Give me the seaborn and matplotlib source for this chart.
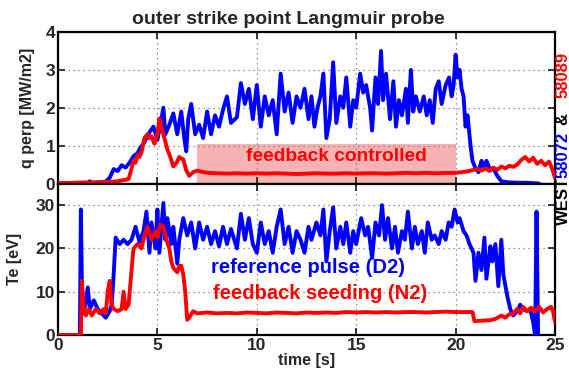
import matplotlib
matplotlib.use("Agg")
import matplotlib.pyplot as plt
import seaborn as sns
import numpy as np

# --- values ---
# top panel: q perp [MW/m2], reference pulse 58072 (blue)
t_q_ref = [0, 1.0, 1.5, 1.6, 1.7, 2.0, 2.4, 2.6, 2.8, 3.0,
           3.2, 3.4, 3.6, 3.8, 4.0, 4.15, 4.3, 4.45, 4.6, 4.8,
           5.0, 5.15, 5.3, 5.4, 5.6, 5.8, 6.0, 6.2, 6.35, 6.45,
           6.55, 6.7, 6.9, 7.1, 7.3, 7.5, 7.7, 7.9, 8.1, 8.3,
           8.5, 8.7, 9.0, 9.2, 9.4, 9.6, 9.8, 10.0, 10.2, 10.4,
           10.6, 10.8, 11.0, 11.2, 11.4, 11.6, 11.8, 12.0, 12.2, 12.4,
           12.6, 12.75, 12.9, 13.05, 13.2, 13.35, 13.5, 13.67, 13.84, 14.0,
           14.2, 14.35, 14.5, 14.7, 14.85, 15.0, 15.2, 15.35, 15.5, 15.7,
           15.8, 15.97, 16.1, 16.25, 16.35, 16.5, 16.7, 16.87, 17.0, 17.15,
           17.3, 17.5, 17.6, 17.75, 17.87, 18.0, 18.2, 18.4, 18.55, 18.7,
           18.85, 19.0, 19.15, 19.3, 19.5, 19.67, 19.8, 19.9, 20.0, 20.1,
           20.2, 20.3, 20.4, 20.5, 20.6, 20.75, 20.85, 21.0, 21.15, 21.3,
           21.45, 21.55, 21.75, 21.9, 22.1, 22.3, 22.65, 23.2, 23.6, 24.2]
q_ref = [0.0, 0.02, 0.02, 0.06, 0.02, 0.03, 0.05, 0.15, 0.38, 0.33,
         0.48, 0.42, 0.55, 0.72, 0.8, 0.95, 1.05, 1.2, 1.35, 1.5,
         1.15, 1.55, 2.0, 1.3, 1.55, 1.85, 1.3, 1.9, 1.2, 0.85,
         1.7, 2.1, 1.3, 1.55, 1.2, 1.9, 1.3, 1.8, 1.5, 1.95,
         2.3, 1.6, 1.75, 2.65, 2.1, 2.5, 1.7, 2.6, 1.5, 2.3,
         1.8, 2.2, 1.3, 2.9, 1.9, 2.4, 1.6, 2.3, 2.0, 2.5,
         1.7, 2.3, 1.5, 2.0, 2.3, 2.9, 1.2, 1.7, 3.2, 1.6,
         2.3, 2.0, 2.8, 1.5, 2.2, 2.0, 2.9, 2.4, 2.6, 2.0,
         1.4, 2.8, 2.1, 3.5, 2.2, 2.9, 1.7, 2.7, 1.5, 2.2,
         1.8, 2.5, 1.6, 3.0, 1.9, 2.3, 1.9, 2.3, 1.8, 2.2,
         1.6, 2.5, 2.7, 2.1, 2.6, 2.8, 2.3, 2.6, 3.4, 2.8,
         3.0, 2.5, 2.3, 1.5, 1.8, 1.0, 0.6, 0.4, 0.3, 0.6,
         0.4, 0.6, 0.35, 0.4, 0.2, 0.06, 0.03, 0.02, 0.02, 0.0]

# top panel: feedback seeding 58089 (red)
t_q_fb = [0, 1.0, 2.0, 2.6, 2.8, 3.0, 3.2, 3.4, 3.55, 3.65,
          3.8, 3.9, 4.0, 4.1, 4.2, 4.35, 4.5, 4.6, 4.7, 4.85,
          5.0, 5.1, 5.2, 5.35, 5.5, 5.65, 5.8, 5.9, 6.0, 6.1,
          6.2, 6.3, 6.45, 6.6, 6.8, 7.0, 7.3, 7.6, 8.0, 8.5,
          9.0, 9.5, 10.0, 10.5, 11.0, 11.5, 12.0, 12.5, 13.0, 13.5,
          14.0, 14.5, 15.0, 15.5, 16.0, 16.5, 17.0, 17.5, 18.0, 18.5,
          19.0, 19.5, 20.0, 20.3, 20.6, 20.9, 21.1, 21.3, 21.5, 21.7,
          21.9, 22.1, 22.3, 22.5, 22.7, 22.9, 23.1, 23.3, 23.5, 23.7,
          23.9, 24.1, 24.3, 24.5, 24.7, 24.85, 25.0]
q_fb = [0.01, 0.02, 0.03, 0.04, 0.05, 0.06, 0.08, 0.1, 0.12, 0.3,
        0.6, 0.55, 0.75, 0.7, 0.82, 1.2, 1.3, 1.2, 1.25, 1.05,
        1.3, 1.72, 1.5, 1.2, 0.9, 0.7, 0.45, 0.5, 0.58, 0.7,
        0.66, 0.64, 0.35, 0.2, 0.3, 0.34, 0.3, 0.28, 0.27, 0.26,
        0.27, 0.26, 0.27, 0.26, 0.27, 0.26, 0.25, 0.26, 0.27, 0.26,
        0.26, 0.27, 0.26, 0.27, 0.27, 0.26, 0.27, 0.28, 0.27, 0.28,
        0.27, 0.28, 0.28, 0.3, 0.32, 0.36, 0.38, 0.34, 0.4, 0.33,
        0.42, 0.36, 0.45, 0.4, 0.47, 0.44, 0.5, 0.62, 0.7, 0.58,
        0.68, 0.52, 0.6, 0.48, 0.58, 0.4, 0.15]

# bottom panel: Te [eV], reference pulse (blue)
t_te_ref = [0, 1.1, 1.15, 1.22, 1.3, 1.5, 1.6, 1.8, 2.0, 2.2,
            2.4, 2.6, 2.7, 2.8, 2.9, 3.1, 3.3, 3.5, 3.7, 3.9,
            4.1, 4.3, 4.45, 4.6, 4.7, 4.9, 5.0, 5.1, 5.3, 5.4,
            5.5, 5.7, 5.8, 6.0, 6.1, 6.3, 6.5, 6.7, 6.9, 7.1,
            7.3, 7.5, 7.7, 7.9, 8.1, 8.3, 8.5, 8.7, 9.0, 9.2,
            9.4, 9.6, 9.8, 10.0, 10.2, 10.4, 10.6, 10.8, 11.0, 11.2,
            11.4, 11.6, 11.8, 12.0, 12.2, 12.4, 12.6, 12.75, 13.0, 13.2,
            13.35, 13.5, 13.67, 13.84, 14.0, 14.2, 14.35, 14.5, 14.7, 14.85,
            15.0, 15.25, 15.45, 15.6, 15.8, 15.97, 16.15, 16.3, 16.45, 16.6,
            16.8, 16.95, 17.1, 17.3, 17.45, 17.6, 17.8, 17.95, 18.1, 18.3,
            18.45, 18.6, 18.8, 18.95, 19.15, 19.3, 19.5, 19.65, 19.8, 19.95,
            20.1, 20.2, 20.4, 20.55, 20.7, 20.9, 21.0, 21.15, 21.3, 21.45,
            21.55, 21.75, 21.85, 22.0, 22.15, 22.3, 22.4, 22.6, 22.75, 22.9,
            23.1, 23.25, 23.4, 23.6, 23.75, 23.9, 24.0, 24.07, 24.15]
te_ref = [0, 0, 29, 6, 5, 11, 6, 8, 6, 5,
          4, 5.5, 7, 14, 22.5, 21, 22, 21, 22, 25,
          21.5, 24, 28.5, 19, 26, 20, 29, 19, 30.5, 22,
          27, 21, 25, 16.5, 22, 27, 23, 26, 20, 26,
          22, 25, 21, 24, 20.5, 25, 21, 24.5, 20, 28,
          22, 27, 21, 19, 26, 21, 24, 19, 25, 29,
          21, 25, 19, 24, 22, 19, 25, 22, 26, 23,
          29, 17, 24, 29.5, 20, 25, 21, 26, 19, 24,
          21, 27, 23, 25, 17.8, 26, 23, 30, 22, 27,
          20, 25, 19, 24, 22, 28.5, 20, 25, 21, 24,
          19, 26, 22, 23, 21, 24, 22, 26, 25, 29,
          26, 27, 24, 23, 21, 19, 12.5, 19, 15, 22.5,
          13, 20.5, 17, 21, 11.3, 22, 14, 9, 6, 4.5,
          5.5, 7, 6, 5.5, 6, 3, 0, 28.5, 0]

# bottom panel: feedback seeding (red)
t_te_fb = [0, 1.15, 1.2, 1.3, 1.4, 1.55, 1.7, 1.9, 2.1, 2.3,
           2.4, 2.5, 2.6, 2.7, 2.8, 3.0, 3.2, 3.3, 3.4, 3.55,
           3.7, 3.8, 4.0, 4.2, 4.35, 4.5, 4.7, 4.9, 5.0, 5.15,
           5.3, 5.45, 5.6, 5.7, 5.8, 6.0, 6.1, 6.2, 6.3, 6.4,
           6.5, 6.6, 6.8, 7.0, 7.5, 8.0, 8.5, 9.0, 9.5, 10.0,
           10.5, 11.0, 11.5, 12.0, 12.5, 13.0, 13.5, 14.0, 14.5, 15.0,
           15.5, 16.0, 16.5, 17.0, 17.5, 18.0, 18.5, 19.0, 19.5, 20.0,
           20.5, 20.85, 20.95, 21.3, 21.7, 22.0, 22.3, 22.5, 22.7, 22.9,
           23.1, 23.25, 23.4, 23.6, 23.8, 24.0, 24.2, 24.4, 24.6, 24.8,
           24.9, 25.0]
te_fb = [0, 0, 12.5, 6, 4.5, 6, 4.5, 6, 5, 6,
         5, 10, 12.5, 7, 6, 5.5, 6, 10, 6, 7,
         15, 20, 21, 20, 23, 25, 22, 24, 22.5, 25.5,
         25, 22, 20, 17, 15.5, 14.5, 16, 16, 14, 10,
         3.5, 4, 5.5, 5, 5.2, 5, 5.1, 5, 5.2, 5.1,
         5, 5.2, 5.1, 5, 5.2, 5.1, 5.2, 5.1, 5.3, 5.2,
         5.3, 5.2, 5.3, 5.2, 5.3, 5.3, 5.2, 5.3, 5.4, 5.3,
         5.3, 5.3, 3.2, 3.3, 3.4, 3.7, 4.5, 4.0, 4.8, 5.0,
         6.0, 5.0, 6.5, 5.5, 6.3, 5.5, 6.5, 5.2, 6.0, 6.5,
         5.5, 3.0]

xticks = [0, 5, 10, 15, 20, 25]
q_ticks = [0, 1, 2, 3, 4]
te_ticks = [0, 10, 20, 30]
fb_window = [7, 20]   # feedback controlled interval [s]
fb_height = 1.04

BLUE = "#0000ff"
RED = "#ff0000"

sns.set_style("ticks")
plt.rcParams['font.family'] = ['Liberation Sans', 'DejaVu Sans']
plt.rcParams['font.weight'] = 'bold'
plt.rcParams['axes.labelweight'] = 'bold'

fig, (ax1, ax2) = plt.subplots(2, 1, sharex=True, figsize=(5.69, 3.72), dpi=100)
fig.subplots_adjust(left=58/569, right=555/569, top=1-32/372, bottom=1-335/372, hspace=0)

# top panel
ax1.axvspan(fb_window[0], fb_window[1], ymin=0, ymax=fb_height/4,
            color="#f7b3b3", lw=0, zorder=0.2)
sns.lineplot(x=t_q_ref, y=q_ref, ax=ax1, color=BLUE, lw=2.8, zorder=3)
sns.lineplot(x=t_q_fb, y=q_fb, ax=ax1, color=RED, lw=2.8, zorder=4)
ax1.text(14.0, 0.7, "feedback controlled", color=RED, fontsize=13.8,
         fontweight='bold', ha='center', va='center', zorder=5)
ax1.set_ylim(0, 4)
ax1.set_yticks(q_ticks)
ax1.set_ylabel("q perp [MW/m2]", fontsize=11.5)
ax1.yaxis.set_label_coords(-0.046, 0.5)

# bottom panel
sns.lineplot(x=t_te_ref, y=te_ref, ax=ax2, color=BLUE, lw=2.8, zorder=3)
sns.lineplot(x=t_te_fb, y=te_fb, ax=ax2, color=RED, lw=2.8, zorder=4)
ax2.text(12.6, 15.6, "reference pulse (D2)", color=BLUE, fontsize=14.5,
         fontweight='bold', ha='center', va='center', zorder=5)
ax2.text(13.2, 9.6, "feedback seeding (N2)", color=RED, fontsize=14.5,
         fontweight='bold', ha='center', va='center', zorder=5)
ax2.set_ylim(0, 35)
ax2.set_yticks(te_ticks)
ax2.set_ylabel("Te [eV]", fontsize=11.5)
ax2.yaxis.set_label_coords(-0.072, 0.5)
ax2.set_xlim(0, 25)
ax2.set_xticks(xticks)
ax2.set_xlabel("time [s]", fontsize=11.5, labelpad=0)

for ax in (ax1, ax2):
    ax.grid(True, linestyle=(0, (1, 3)), color='0.45', lw=0.9)
    ax.tick_params(direction='in', top=True, right=True, length=5, width=1.3,
                   labelsize=12.5, pad=2)
    for sp in ax.spines.values():
        sp.set_linewidth(1.6)
        sp.set_color('black')
    ax.set_axisbelow(True)

fig.text(288/569, 1-20/372, "outer strike point Langmuir probe",
         fontsize=14, fontweight='bold', ha='center', va='center')

# right side label in three colours, rotated
for txt, col, ypx in [("58089", RED, 75), ("&", "black", 119),
                      ("58072", BLUE, 155), ("WEST", "black", 201)]:
    fig.text(563/569, 1-ypx/372, txt, color=col, fontsize=12,
             fontweight='bold', rotation=90, ha='center', va='center')

fig.savefig("out.png", dpi=100)
